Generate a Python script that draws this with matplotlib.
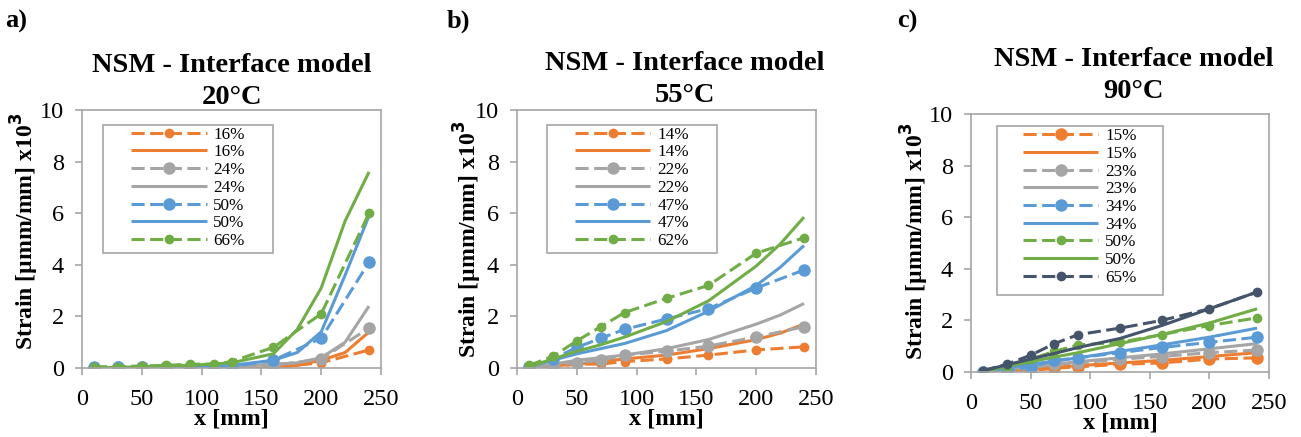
import numpy as np
import matplotlib.pyplot as plt
from matplotlib.patches import Rectangle

plt.rcParams['font.family'] = ['Liberation Serif', 'DejaVu Serif']

orange = '#ED7D31'
gray = '#A5A5A5'
blue = '#5B9BD5'
green = '#70AD47'
dark = '#44546A'

# experimental points (dashed + markers)
x_exp = [10, 30, 50, 70, 90, 110, 125, 160, 200, 240]
# numerical model (solid)
x_num = [10, 50, 90, 125, 160, 180, 200, 220, 240]

# ---- a) 20 C
a_exp16 = [0.0, 0.0, 0.02, 0.02, 0.02, 0.02, 0.02, 0.03, 0.2, 0.7]
a_num16 = [0.0, 0.0, 0.0, 0.0, 0.0, 0.1, 0.3, 0.6, 1.4]
a_exp24 = [0.0, 0.02, 0.03, 0.03, 0.04, 0.05, 0.05, 0.1, 0.35, 1.55]
a_num24 = [0.0, 0.0, 0.02, 0.05, 0.15, 0.2, 0.4, 1.0, 2.4]
a_exp50 = [0.02, 0.03, 0.04, 0.05, 0.05, 0.05, 0.05, 0.3, 1.15, 4.1]
a_num50 = [0.0, 0.02, 0.05, 0.1, 0.3, 0.6, 1.4, 3.6, 5.9]
a_exp66 = [0.05, 0.05, 0.08, 0.1, 0.15, 0.15, 0.25, 0.8, 2.1, 6.0]
a_num66 = [0.0, 0.05, 0.1, 0.2, 0.55, 1.5, 3.1, 5.7, 7.6]

# ---- b) 55 C
x_exp_b = [10, 30, 50, 70, 90, 125, 160, 200, 240]
x_num_b = [10, 30, 50, 70, 90, 125, 160, 200, 220, 240]
b_exp14 = [0.05, 0.05, 0.15, 0.15, 0.25, 0.35, 0.5, 0.7, 0.82]
b_num14 = [0.0, 0.08, 0.15, 0.25, 0.35, 0.5, 0.75, 1.1, 1.35, 1.7]
b_exp22 = [0.05, 0.1, 0.2, 0.3, 0.5, 0.65, 0.85, 1.2, 1.6]
b_num22 = [0.0, 0.15, 0.3, 0.4, 0.5, 0.75, 1.1, 1.7, 2.05, 2.5]
b_exp47 = [0.05, 0.35, 0.8, 1.15, 1.5, 1.9, 2.3, 3.1, 3.8]
b_num47 = [0.05, 0.3, 0.55, 0.75, 0.95, 1.45, 2.2, 3.2, 3.9, 4.75]
b_exp62 = [0.1, 0.45, 1.05, 1.6, 2.15, 2.7, 3.2, 4.45, 5.05]
b_num62 = [0.05, 0.35, 0.65, 0.9, 1.2, 1.8, 2.6, 3.95, 4.8, 5.85]

# ---- c) 90 C
x_exp_c = [10, 30, 50, 70, 90, 125, 160, 200, 240]
x_num_c = [10, 30, 50, 70, 90, 125, 160, 200, 240]
c_exp15 = [0.0, 0.0, 0.05, 0.15, 0.2, 0.3, 0.35, 0.5, 0.55]
c_num15 = [0.0, 0.05, 0.1, 0.18, 0.25, 0.35, 0.45, 0.6, 0.75]
c_exp23 = [0.0, 0.05, 0.15, 0.3, 0.35, 0.5, 0.6, 0.75, 0.85]
c_num23 = [0.0, 0.1, 0.2, 0.3, 0.4, 0.55, 0.7, 0.9, 1.1]
c_exp34 = [0.0, 0.05, 0.2, 0.45, 0.55, 0.75, 0.95, 1.15, 1.35]
c_num34 = [0.0, 0.15, 0.3, 0.42, 0.55, 0.8, 1.05, 1.35, 1.7]
c_exp50 = [0.0, 0.2, 0.5, 0.8, 1.05, 1.15, 1.45, 1.8, 2.1]
c_num50 = [0.05, 0.22, 0.4, 0.58, 0.75, 1.1, 1.45, 1.9, 2.45]
c_exp65 = [0.05, 0.3, 0.65, 1.1, 1.45, 1.7, 2.0, 2.45, 3.1]
c_num65 = [0.05, 0.28, 0.5, 0.72, 0.95, 1.3, 1.8, 2.45, 3.1]

lw = 2.2
dash = (4.3, 1.8)

fig = plt.figure(figsize=(13.01, 4.37), dpi=100)
W, H = 1301, 437


def make_ax(l, r, t, b, ylab_pos):
    ax = fig.add_axes([l / W, 1 - b / H, (r - l) / W, (b - t) / H])
    ax.set_xlim(0, 250)
    ax.set_ylim(0, 10)
    ax.set_xticks([0, 50, 100, 150, 200, 250])
    ax.set_yticks([0, 2, 4, 6, 8, 10])
    for s in ax.spines.values():
        s.set_color('#A6A6A6')
        s.set_linewidth(1.2)
    ax.tick_params(labelsize=17.5, color='#A6A6A6', length=5, width=1.2)
    ax.tick_params(axis='x', pad=10)
    ax.tick_params(axis='y', pad=8)
    ax.set_xlabel('x [mm]', fontsize=17.5, fontweight='bold', labelpad=-1)
    ax.set_ylabel('Strain [µmm/mm] x10$^{\\mathbf{3}}$', fontsize=17,
                  fontweight='bold', va='center')
    ax.yaxis.set_label_coords(*ylab_pos)
    return ax


def exp_line(ax, x, y, c, ms, lab):
    ax.plot(x, y, color=c, lw=lw, dashes=dash, marker='o', ms=ms, label=lab)


def num_line(ax, x, y, c, lab):
    ax.plot(x, y, color=c, lw=lw, solid_capstyle='butt', label=lab)


def legend_box(ax, x0, y0, x1, y1, anchor):
    ax.add_patch(Rectangle((x0, y0), x1 - x0, y1 - y0, transform=ax.transAxes,
                           fill=True, facecolor='white', edgecolor='#A6A6A6',
                           lw=1.2, zorder=4))
    leg = ax.legend(loc='upper left', bbox_to_anchor=anchor, frameon=False,
                    fontsize=12.3, handlelength=4.4, handletextpad=0.4,
                    labelspacing=0.1, borderpad=0, borderaxespad=0)
    leg.set_zorder(5)


# panel a
ax = make_ax(82, 381, 110, 368, (-0.19, 0.53))
exp_line(ax, x_exp, a_exp16, orange, 6, '16%')
num_line(ax, x_num, a_num16, orange, '16%')
exp_line(ax, x_exp, a_exp24, gray, 8, '24%')
num_line(ax, x_num, a_num24, gray, '24%')
exp_line(ax, x_exp, a_exp50, blue, 8, '50%')
num_line(ax, x_num, a_num50, blue, '50%')
exp_line(ax, x_exp, a_exp66, green, 6, '66%')
num_line(ax, x_num, a_num66, green, '_nolegend_')
legend_box(ax, 0.07, 0.446, 0.639, 0.942, (0.165, 0.935))

# panel b
ax = make_ax(517, 816, 110, 368, (-0.163, 0.50))
exp_line(ax, x_exp_b, b_exp14, orange, 6, '14%')
num_line(ax, x_num_b, b_num14, orange, '14%')
exp_line(ax, x_exp_b, b_exp22, gray, 8, '22%')
num_line(ax, x_num_b, b_num22, gray, '22%')
exp_line(ax, x_exp_b, b_exp47, blue, 8, '47%')
num_line(ax, x_num_b, b_num47, blue, '47%')
exp_line(ax, x_exp_b, b_exp62, green, 6, '62%')
num_line(ax, x_num_b, b_num62, green, '_nolegend_')
legend_box(ax, 0.10, 0.446, 0.669, 0.942, (0.195, 0.935))

# panel c
ax = make_ax(971, 1269, 114, 372, (-0.187, 0.505))
exp_line(ax, x_exp_c, c_exp15, orange, 8, '15%')
num_line(ax, x_num_c, c_num15, orange, '15%')
exp_line(ax, x_exp_c, c_exp23, gray, 8, '23%')
num_line(ax, x_num_c, c_num23, gray, '23%')
exp_line(ax, x_exp_c, c_exp34, blue, 8, '34%')
num_line(ax, x_num_c, c_num34, blue, '34%')
exp_line(ax, x_exp_c, c_exp50, green, 6, '50%')
num_line(ax, x_num_c, c_num50, green, '50%')
exp_line(ax, x_exp_c, c_exp65, dark, 6, '65%')
ax.plot(x_num_c, c_num65, color=dark, lw=lw)
legend_box(ax, 0.087, 0.298, 0.644, 0.953, (0.175, 0.945))

# titles
titles = [(232, 65, 97, '20°C'), (685, 64, 95, '55°C'), (1134, 60, 92, '90°C')]
for cx, y1, y2, t in titles:
    fig.text(cx / W, 1 - y1 / H, 'NSM - Interface model', ha='center', va='center',
             fontsize=20.5, fontweight='bold')
    fig.text(cx / W, 1 - y2 / H, t, ha='center', va='center',
             fontsize=20.5, fontweight='bold')

for x, lab in [(5, 'a)'), (447, 'b)'), (897, 'c)')]:
    fig.text(x / W, 1 - 21 / H, lab, ha='left', va='center', fontsize=19,
             fontweight='bold')

fig.savefig('out.png', dpi=100)
